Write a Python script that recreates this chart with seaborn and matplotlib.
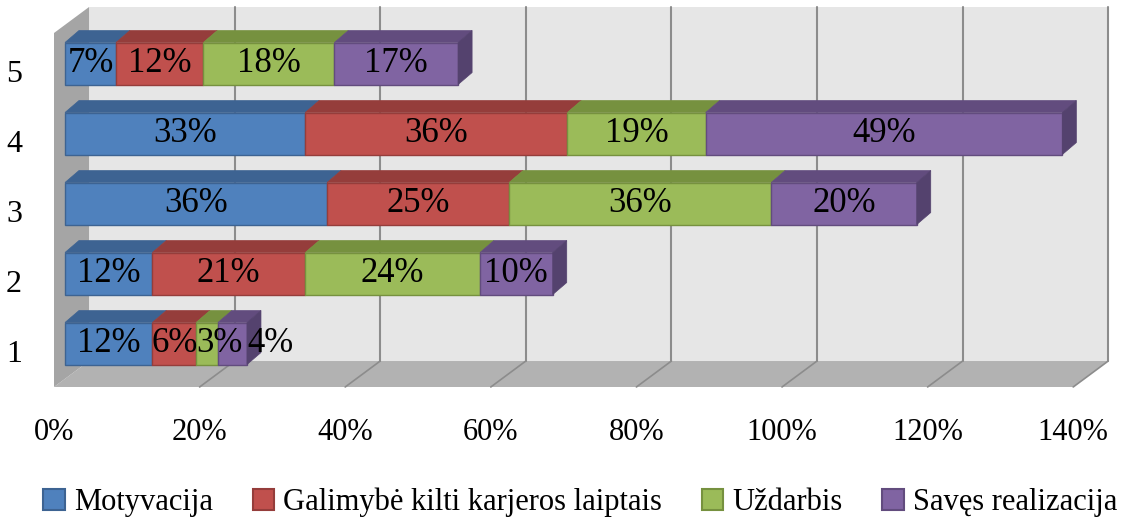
import matplotlib
matplotlib.use("Agg")
import matplotlib.pyplot as plt
from matplotlib.patches import Polygon, Patch
import numpy as np
import seaborn as sns

# data
categories = ["1", "2", "3", "4", "5"]
series_names = ["Motyvacija", "Galimybė kilti karjeros laiptais", "Uždarbis", "Savęs realizacija"]
motyvacija = [12, 12, 36, 33, 7]
galimybe = [6, 21, 25, 36, 12]
uzdarbis = [3, 24, 36, 19, 18]
saves = [4, 10, 20, 49, 17]
x_ticks = [0, 20, 40, 60, 80, 100, 120, 140]
x_tick_labels = ["0%", "20%", "40%", "60%", "80%", "100%", "120%", "140%"]

front_col = ["#4f81bd", "#c0504d", "#9bbb59", "#8064a2"]
top_col = ["#3d6392", "#953d3b", "#76913f", "#624c7e"]
side_col = ["#345580", "#7f3331", "#657d36", "#54426e"]

sns.set_theme(style="white")
plt.rcParams["font.family"] = ["Liberation Serif", "DejaVu Serif"]
plt.rcParams["text.color"] = "black"
plt.rcParams["xtick.color"] = "black"
plt.rcParams["ytick.color"] = "black"
FS = 22
LFS = 25

# pseudo 3d geometry (data units)
wdx, wdy = 4.81, 0.371      # wall depth
fdx, fdy = 1.51, 0.114      # bar front plane shift
bdx, bdy = 1.92, 0.171      # bar depth
bar_h = 0.6
floor_y = -0.507
top_y = 4.55

fig = plt.figure(figsize=(11.27, 5.21), dpi=100)
W, H = 1127, 521
ax = fig.add_axes([40 / W, (H - 390) / H, (1115 - 40) / W, (390 - 5) / H])
ax.set_xlim(-1.923, 145.74)
ax.set_ylim(-0.55, 4.95)
for s in ax.spines.values():
    s.set_visible(False)
ax.set_facecolor("none")

# walls
xmax = x_ticks[-1]
ax.add_patch(Polygon([(wdx, floor_y + wdy), (xmax + wdx, floor_y + wdy),
                      (xmax + wdx, top_y + wdy), (wdx, top_y + wdy)],
                     closed=True, facecolor="#e6e6e6", edgecolor="none", zorder=0))
ax.add_patch(Polygon([(0, floor_y), (xmax, floor_y), (xmax + wdx, floor_y + wdy), (wdx, floor_y + wdy)],
                     closed=True, facecolor="#b2b2b2", edgecolor="none", zorder=0))
ax.add_patch(Polygon([(0, floor_y), (wdx, floor_y + wdy), (wdx, top_y + wdy), (0, top_y)],
                     closed=True, facecolor="#a5a5a5", edgecolor="none", zorder=0))
for t in x_ticks:
    if t == 0:
        continue
    ax.plot([t + wdx, t + wdx], [floor_y + wdy, top_y + wdy], color="#8c8c8c", lw=1.5, zorder=1)
    ax.plot([t, t + wdx], [floor_y, floor_y + wdy], color="#8c8c8c", lw=1.2, zorder=1)

# stacked bars
series = [motyvacija, galimybe, uzdarbis, saves]
ypos = np.arange(len(categories))
left = np.zeros(len(categories))
for j, vals in enumerate(series):
    vals = np.array(vals, float)
    ax.barh(ypos + fdy, vals, left=left + fdx, height=bar_h, color=front_col[j],
            edgecolor=top_col[j], linewidth=1, zorder=3, label=series_names[j])
    for i, v in enumerate(vals):
        x0 = left[i] + fdx
        x1 = x0 + v
        yt = ypos[i] + fdy + bar_h / 2
        ax.add_patch(Polygon([(x0, yt), (x1, yt), (x1 + bdx, yt + bdy), (x0 + bdx, yt + bdy)],
                             closed=True, facecolor=top_col[j], edgecolor=top_col[j], lw=0.5, zorder=3))
        if j == len(series) - 1:
            yb = ypos[i] + fdy - bar_h / 2
            ax.add_patch(Polygon([(x1, yb), (x1 + bdx, yb + bdy), (x1 + bdx, yt + bdy), (x1, yt)],
                                 closed=True, facecolor=side_col[j], edgecolor=side_col[j], lw=0.5, zorder=3))
        # labels
        lab = f"{int(v)}%"
        if v < 5:
            if j == len(series) - 1:
                ax.text(x1, ypos[i] + fdy, lab, ha="left", va="center", fontsize=LFS, zorder=5)
            else:
                ax.text(x0, ypos[i] + fdy, lab, ha="left", va="center", fontsize=LFS, zorder=5)
        else:
            ax.text((x0 + x1) / 2, ypos[i] + fdy, lab, ha="center", va="center", fontsize=LFS, zorder=5)
    left = left + vals

ax.set_xticks(x_ticks)
ax.set_xticklabels(x_tick_labels, fontsize=FS)
ax.set_yticks(ypos)
ax.set_yticklabels(categories, fontsize=FS + 1)
ax.tick_params(axis="x", length=0, pad=20)
ax.tick_params(axis="y", length=0, pad=13)

handles = [Patch(facecolor=front_col[j], edgecolor=top_col[j], linewidth=1.5) for j in range(4)]
fig.legend(handles, series_names, loc="lower center", bbox_to_anchor=(0.515, -0.045), ncol=4,
           frameon=False, fontsize=FS, handlelength=0.7, handleheight=0.7, handletextpad=0.3,
           columnspacing=1.3)

fig.savefig("out.png", dpi=100)
